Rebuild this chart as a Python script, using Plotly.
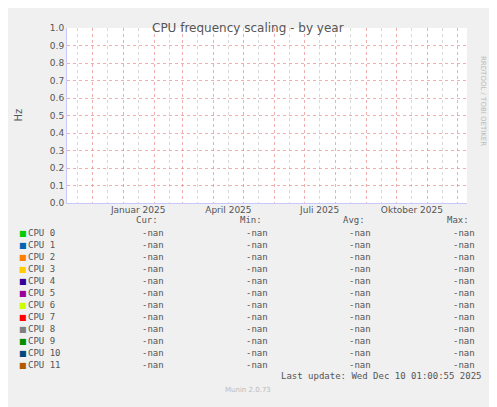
import plotly.graph_objects as go
import numpy as np

dates = ["2024-11-06", "2025-12-10"]
cpus = ["CPU 0","CPU 1","CPU 2","CPU 3","CPU 4","CPU 5","CPU 6","CPU 7","CPU 8","CPU 9","CPU 10","CPU 11"]
colors = ["#00CC00","#0066B3","#FF8000","#FFCC00","#330099","#990099","#CCFF00","#FF0000","#808080","#008F00","#00487D","#B35A00"]
cur = ["-nan"]*12
mn = ["-nan"]*12
avg = ["-nan"]*12
mx = ["-nan"]*12
month_labels = ["Januar 2025","April 2025","Juli 2025","Oktober 2025"]
month_label_pos = ["2025-01-16","2025-04-16","2025-07-16","2025-10-16"]

OFF = 8  # page body margin
W, H = 497 - OFF, 407 - OFF
L, R, T, B = 67, 467, 28, 203
def px(x): return (x - L) / (R - L)
def py(y): return (B - y) / (B - T)

fig = go.Figure()
for name, c in zip(cpus, colors):
    fig.add_trace(go.Scatter(x=dates, y=[np.nan, np.nan], mode="lines", line=dict(color=c), name=name, showlegend=False))
fig.add_trace(go.Scatter(x=dates, y=[np.nan, np.nan], xaxis="x2", showlegend=False))

mono = "DejaVu Sans Mono"
ann = []
ann.append(dict(text="CPU frequency scaling - by year", x=px(248), y=py(19), xref="paper", yref="paper", showarrow=False, font=dict(family="DejaVu Sans", size=12, color="#555")))
ann.append(dict(text="Hz", x=px(10), y=py(115), xref="paper", yref="paper", showarrow=False, textangle=-90, font=dict(family="DejaVu Sans", size=10, color="#555")))
ann.append(dict(text="RRDTOOL / TOBI OETIKER", x=px(489), y=py(54), xref="paper", yref="paper", showarrow=False, textangle=90, font=dict(family="DejaVu Sans", size=7, color="#BBB")))
hdr_y = 227
for t, xr in zip(["Cur:","Min:","Avg:","Max:"], [160, 264, 367, 471]):
    ann.append(dict(text=t, x=px(xr), y=py(hdr_y), xref="paper", yref="paper", xanchor="right", showarrow=False, font=dict(family=mono, size=9, color="#555")))
for i, (name, c) in enumerate(zip(cpus, colors)):
    yy = 239.5 + i * 12
    ann.append(dict(text="■", x=px(17), y=py(yy), xref="paper", yref="paper", showarrow=False, font=dict(family="DejaVu Sans", size=8, color=c)))
    ann.append(dict(text=name, x=px(26), y=py(yy), xref="paper", yref="paper", xanchor="left", showarrow=False, font=dict(family=mono, size=9, color="#555")))
    for vals, xr in zip([cur, mn, avg, mx], [166, 270, 373, 477]):
        ann.append(dict(text=vals[i], x=px(xr), y=py(yy), xref="paper", yref="paper", xanchor="right", showarrow=False, font=dict(family=mono, size=9, color="#555")))
ann.append(dict(text="Last update: Wed Dec 10 01:00:55 2025", x=px(483), y=py(383.5), xref="paper", yref="paper", xanchor="right", showarrow=False, font=dict(family=mono, size=9, color="#555")))
ann.append(dict(text="Munin 2.0.73", x=px(248), y=py(396), xref="paper", yref="paper", showarrow=False, font=dict(family="DejaVu Sans", size=7, color="#BBB")))

fig.update_layout(
    width=W, height=H,
    margin=dict(l=L - OFF, r=497 - R, t=T - OFF, b=407 - B, autoexpand=False),
    paper_bgcolor="#F0F0F0", plot_bgcolor="#FFFFFF",
    annotations=ann,
    xaxis=dict(type="date", range=[dates[0], dates[1]], dtick="M1", tick0="2024-12-01",
               showgrid=True, gridcolor="rgba(230,120,120,0.6)", griddash="dot", gridwidth=1,
               showticklabels=False, ticks="", zeroline=False,
               minor=dict(dtick="M1", tick0="2024-11-16", showgrid=True, gridcolor="#D8D8D8", griddash="dot"),
               showline=True, linecolor="#C8C8FF", fixedrange=True),
    xaxis2=dict(type="date", range=[dates[0], dates[1]], overlaying="x", side="bottom",
                tickvals=month_label_pos, ticktext=month_labels, showgrid=False, ticks="",
                tickfont=dict(family="DejaVu Sans", size=9, color="#555"), zeroline=False),
    yaxis=dict(range=[0, 1], dtick=0.1, tickformat=".1f", showgrid=True,
               gridcolor="rgba(230,120,120,0.6)", griddash="dot", zeroline=False,
               tickfont=dict(family="DejaVu Sans", size=9, color="#555"),
               showline=True, linecolor="#C8C8FF", ticks=""),
)
fig.write_html("out.html")
